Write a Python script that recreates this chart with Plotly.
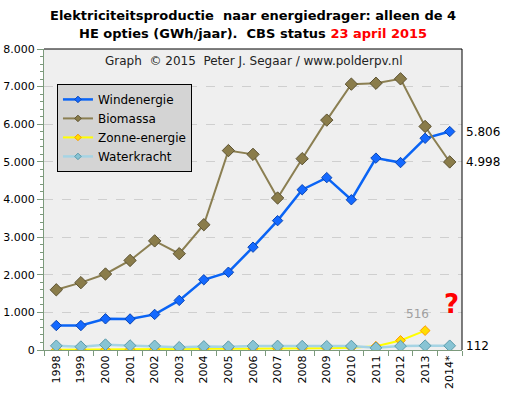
import plotly.graph_objects as go

years = ["1998", "1999", "2000", "2001", "2002", "2003", "2004", "2005", "2006",
         "2007", "2008", "2009", "2010", "2011", "2012", "2013", "2014*"]
wind = [650, 650, 829, 825, 946, 1318, 1867, 2067, 2733, 3438, 4260, 4581, 3993,
        5100, 4982, 5627, 5806]
biomassa = [1600, 1790, 2020, 2380, 2900, 2560, 3330, 5300, 5200, 4040, 5085, 6110,
            7066, 7090, 7207, 5941, 4998]
zon = [7, 8, 8, 13, 17, 27, 32, 34, 35, 36, 38, 46, 60, 100, 254, 516, None]
water = [111, 88, 142, 117, 110, 72, 95, 88, 106, 107, 102, 98, 105, 57, 104, 114, 112]

FONT = "DejaVu Sans"

def fmt(v):
    return f"{v:,}".replace(",", ".")

series = [
    ("Windenergie", wind, dict(color="#0a64f5", width=2.5),
     dict(symbol="diamond", size=8, color="#1469ff", line=dict(color="#0a46b4", width=1))),
    ("Biomassa", biomassa, dict(color="#8b7f52", width=2),
     dict(symbol="diamond", size=9.5, color="#8a7c4a", line=dict(color="#5c5232", width=1))),
    ("Zonne-energie", zon, dict(color="#ffff00", width=2),
     dict(symbol="diamond", size=7.5, color="#ffdd00", line=dict(color="#ff9900", width=1))),
    ("Waterkracht", water, dict(color="#a6d4e4", width=2.5),
     dict(symbol="diamond", size=9, color="#88c4d4", line=dict(color="#5a9aaa", width=1))),
]

fig = go.Figure()
for name, vals, ln, mk in series:
    fig.add_trace(go.Scatter(x=years, y=vals, name=name, mode="lines+markers",
                             line=ln, marker=mk, showlegend=False))
# legend entries with small markers
for name, vals, ln, mk in series:
    small = dict(mk)
    small["size"] = 5
    fig.add_trace(go.Scatter(x=[None], y=[None], name=name, mode="lines+markers",
                             line=ln, marker=small, showlegend=True))

annotations = [
    dict(text="<b>Elektriciteitsproductie  naar energiedrager: alleen de 4</b>",
         xref="paper", yref="paper", x=0.5, y=1, yshift=34, xanchor="center", yanchor="middle",
         showarrow=False, font=dict(family=FONT, size=13, color="#000000")),
    dict(text="<b>HE opties (GWh/jaar).  CBS status <span style='color:#ff0000'>23 april 2015</span></b>",
         xref="paper", yref="paper", x=0.5, y=1, yshift=16, xanchor="center", yanchor="middle",
         showarrow=False, font=dict(family=FONT, size=13, color="#000000")),
    dict(text="Graph  © 2015  Peter J. Segaar / www.polderpv.nl", xref="paper", yref="paper",
         x=0.5, y=1, yshift=-12, xanchor="center", yanchor="middle", showarrow=False,
         font=dict(family=FONT, size=12, color="#222222")),
    dict(text=fmt(wind[-1]), xref="paper", yref="y", x=1.005, y=wind[-1],
         xanchor="left", yanchor="middle", showarrow=False,
         font=dict(family=FONT, size=12, color="#000000")),
    dict(text=fmt(biomassa[-1]), xref="paper", yref="y", x=1.005, y=biomassa[-1],
         xanchor="left", yanchor="middle", showarrow=False,
         font=dict(family=FONT, size=12, color="#000000")),
    dict(text=fmt(water[-1]), xref="paper", yref="y", x=1.005, y=water[-1],
         xanchor="left", yanchor="middle", showarrow=False,
         font=dict(family=FONT, size=12, color="#000000")),
    dict(text=fmt(zon[15]), xref="x", yref="y", x=15, y=950,
         xanchor="center", yanchor="middle", xshift=-8, showarrow=False,
         font=dict(family=FONT, size=12, color="#a0a0a0")),
    dict(text="<b>?</b>", xref="x", yref="y", x=16, y=1220,
         xanchor="center", yanchor="middle", xshift=2, showarrow=False,
         font=dict(family=FONT, size=26, color="#ff0000")),
]

fig.update_layout(
    width=506, height=399,
    margin=dict(l=44, r=44, t=49, b=49),
    paper_bgcolor="#ffffff",
    plot_bgcolor="#efefef",
    separators=",.",
    font=dict(family=FONT, size=11, color="#000000"),
    showlegend=True,
    legend=dict(x=0.031, y=0.884, xanchor="left", yanchor="top",
                bgcolor="#d4d4d4", bordercolor="#000000", borderwidth=1,
                font=dict(family=FONT, size=12, color="#000000"),
                entrywidth=108, entrywidthmode="pixels",
                tracegroupgap=0),
    xaxis=dict(type="category", range=[-0.5, 16.5], tickangle=-90, automargin=False,
               showgrid=False, showline=True, linecolor="#7c9a7c", linewidth=1,
               ticks="outside", ticklen=5, tickcolor="#7c9a7c", tickson="boundaries",
               tickfont=dict(family=FONT, size=11, color="#000000"), zeroline=False),
    yaxis=dict(range=[0, 8000], dtick=1000, tickformat=",d", automargin=False,
               showgrid=True, gridcolor="#cfcfcf", griddash="dash", gridwidth=1,
               showline=True, linecolor="#7c9a7c", linewidth=1,
               ticks="outside", ticklen=6, tickcolor="#7c9a7c",
               minor=dict(dtick=200, ticks="outside", ticklen=3, tickcolor="#7c9a7c",
                          showgrid=False),
               tickfont=dict(family=FONT, size=11, color="#000000"), zeroline=False),
    annotations=annotations,
    shapes=[
        dict(type="line", xref="paper", yref="paper", x0=0, x1=1, y0=1, y1=1,
             line=dict(color="#000000", width=1)),
        dict(type="line", xref="paper", yref="paper", x0=1, x1=1, y0=0, y1=1,
             line=dict(color="#000000", width=1)),
    ],
)

fig.write_html("out.html", config={"displayModeBar": False},
               post_script="document.body.style.margin='0';document.body.style.padding='0';")
